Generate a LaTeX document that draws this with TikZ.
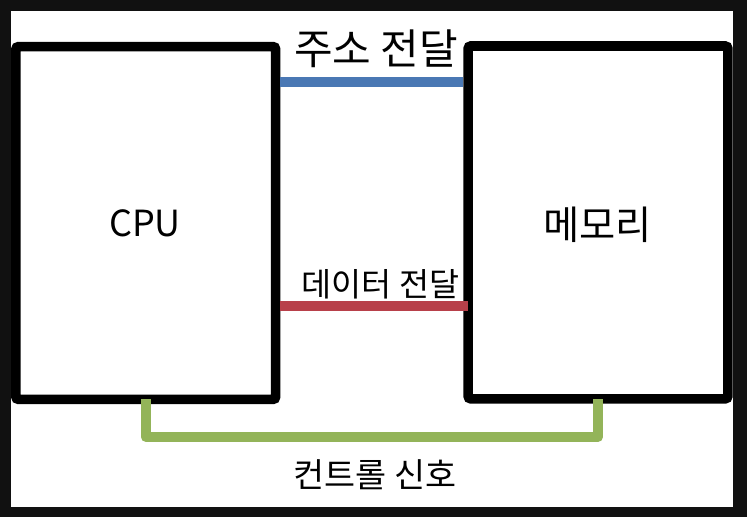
\documentclass[tikz,border=0pt]{standalone}
\usepackage{fontspec}
\setmainfont{Noto Sans CJK KR}
\definecolor{frame}{HTML}{111111}
\definecolor{addrblue}{HTML}{4A78B4}
\definecolor{datared}{HTML}{B8404A}
\definecolor{ctrlgreen}{HTML}{93B459}
\tikzset{
  unitbox/.style={draw=black, line width=7.2pt, rounded corners=2pt, fill=white,
    minimum width=194.8pt, minimum height=264.6pt, inner sep=0pt, outer sep=0pt},
  bus/.style={line width=7pt},
  bigtxt/.style={font=\fontsize{27pt}{32pt}\selectfont, inner sep=0pt},
  midtxt/.style={font=\fontsize{24.5pt}{29pt}\selectfont, inner sep=0pt},
}
\begin{document}
\begin{tikzpicture}[x=0.75pt, y=-0.75pt]
\fill[frame] (0,0) rectangle (747,517);
\fill[white] (11,11) rectangle (733,507);
\useasboundingbox (0,0) rectangle (747,517);
\node[unitbox] (cpu) at (145.75,223) {};
\node[unitbox] (mem) at (598,222.4) {};
\node[bigtxt] (cputxt) at (145,223.5) {CPU};
\node[bigtxt, font=\fontsize{29.5pt}{34pt}\selectfont] (memtxt) at (597.5,225) {메모리};
\draw[bus, addrblue, shorten <=3.6pt, shorten >=3.6pt] (cpu.east |- 0,82) -- (mem.west |- 0,82);
\draw[bus, datared, shorten <=3.6pt, shorten >=0pt] (cpu.east |- 0,306) -- (mem.west |- 0,306);
\draw[bus, line width=7.5pt, ctrlgreen, line join=round] (cpu.south) -- ++(0,37.5) -| (mem.south);
\node[font=\fontsize{31.5pt}{36pt}\selectfont, inner sep=0pt] (addrtxt) at (376,49) {주소 전달};
\node[midtxt] (datatxt) at (380.5,284) {데이터 전달};
\node[midtxt, font=\fontsize{25.3pt}{30pt}\selectfont] (ctrltxt) at (375,475) {컨트롤 신호};
\end{tikzpicture}
\end{document}
